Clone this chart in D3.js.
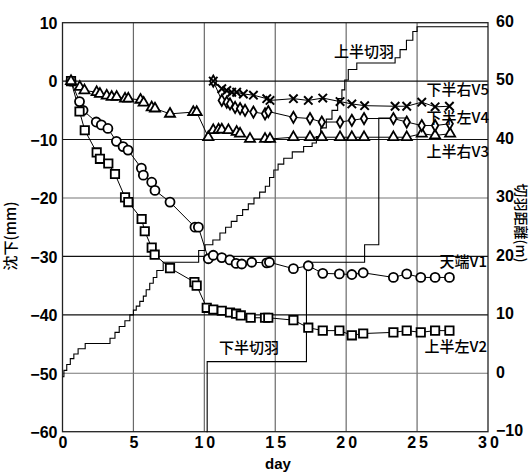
<!DOCTYPE html>
<html>
<head>
<meta charset="utf-8">
<script src="https://cdn.jsdelivr.net/npm/d3@7/dist/d3.min.js"></script>
<style>
  html, body { margin: 0; padding: 0; background: #fff; }
  svg { display: block; }
  .tick-label { font-family: "Liberation Sans", Arial, sans-serif; font-weight: bold; font-size: 16px; fill: #000; }
  .cjk { font-family: "Noto Sans CJK JP", "Noto Sans", sans-serif; font-weight: 500; font-size: 15px; fill: #000; }
</style>
</head>
<body>
<svg id="chart" width="532" height="474"></svg>
<script>
// Settlement (mm) per measuring point, [day, mm]
const crownV1 = [[0.6,0],[1.2,-3.5],[1.45,-5.0],[2.38,-7.0],[2.74,-7.5],[3.2,-8.1],[3.8,-10.3],[4.27,-11.2],[4.62,-11.8],[5.56,-14.9],[5.7,-16.1],[6.29,-17.3],[6.52,-18.7],[7.58,-20.7],[9.34,-25.0],[9.58,-25.0],[10.28,-30.4],[10.63,-29.8],[11.23,-30.2],[11.8,-30.6],[12.24,-31.2],[12.64,-31.3],[13.34,-31.0],[14.4,-31.1],[14.59,-31.0],[16.28,-32.1],[17.33,-31.6],[18.35,-32.9],[19.52,-33.0],[20.4,-33.1],[21.2,-32.8],[23.33,-33.6],[24.27,-33.0],[25.26,-33.6],[26.27,-33.6],[27.28,-33.6]];
const upperLeftV2 = [[0.6,0],[1.2,-5.2],[1.57,-8.4],[2.41,-12.2],[2.64,-13.3],[3.23,-14.1],[3.7,-15.9],[4.41,-19.9],[4.64,-20.7],[5.58,-23.6],[5.8,-25.7],[6.29,-28.5],[6.5,-29.7],[7.58,-32.0],[9.3,-34.4],[9.46,-35.0],[10.17,-38.8],[10.63,-39.1],[11.23,-39.3],[11.81,-39.6],[12.24,-39.8],[12.57,-40.1],[13.27,-40.5],[14.28,-40.5],[14.51,-40.5],[16.28,-40.9],[17.33,-42.2],[18.35,-42.7],[19.52,-42.7],[20.4,-43.5],[21.2,-43.2],[23.33,-43.0],[24.27,-42.7],[25.26,-43.0],[26.27,-42.7],[27.28,-42.7]];
const upperRightV3 = [[0.6,0],[1.22,-1.0],[1.55,-1.6],[2.41,-1.9],[2.64,-2.2],[3.12,-2.5],[3.47,-2.7],[3.82,-2.7],[4.41,-3.0],[4.64,-3.0],[5.5,-3.2],[5.72,-3.7],[6.29,-4.5],[6.52,-4.7],[7.58,-5.6],[9.22,-5.3],[9.46,-5.3],[10.28,-9.6],[10.63,-8.4],[11.0,-8.3],[11.23,-8.3],[11.7,-8.4],[12.28,-8.7],[12.52,-9.0],[13.22,-9.9],[14.28,-9.9],[14.63,-9.9],[16.28,-9.6],[17.45,-9.6],[18.28,-9.6],[19.57,-9.6],[20.4,-9.6],[21.26,-9.6],[23.33,-9.6],[24.27,-9.6],[25.33,-9.0],[26.27,-9.3],[27.33,-9.0]];
const lowerLeftV4 = [[10.63,0],[11.23,-3.3],[11.58,-3.6],[11.81,-3.9],[12.17,-4.5],[12.52,-4.7],[12.87,-5.0],[13.46,-5.3],[14.28,-5.6],[14.51,-5.2],[16.28,-6.2],[17.45,-6.4],[18.28,-7.0],[19.57,-7.0],[20.4,-6.7],[21.26,-6.4],[23.33,-6.4],[24.27,-7.0],[25.33,-7.6],[26.27,-7.6],[27.3,-7.3]];
const lowerRightV5 = [[10.63,0],[11.23,-1.3],[11.58,-1.6],[11.93,-1.9],[12.28,-1.9],[12.75,-2.2],[13.46,-2.4],[14.4,-3.0],[14.63,-3.3],[16.28,-3.0],[17.33,-3.3],[18.35,-2.9],[19.57,-3.5],[20.4,-3.9],[21.3,-4.2],[23.45,-4.3],[24.27,-4.3],[25.33,-3.6],[26.27,-4.4],[27.28,-4.3]];

// Face distance (m) progress, [day, m], held until the next entry
const upperFace = [[0,-0.6],[0.1,0.5],[0.3,1.5],[0.55,2.5],[0.8,3.3],[1.1,4.2],[1.6,5.1],[3.35,6],[3.7,7],[4.0,8],[4.4,9],[4.75,10],[5.0,10.8],[5.2,11.5],[5.45,12.3],[5.7,13.2],[5.9,14.3],[6.15,15.4],[6.4,16.4],[6.65,17.6],[7.1,19],[9.6,21],[10.05,22],[10.6,22.8],[11.1,24],[11.5,25],[11.9,26],[12.3,27],[12.7,28],[13.1,29],[13.5,30],[13.9,31],[14.3,32],[14.6,33.5],[14.9,34.8],[15.2,35.8],[15.6,36.8],[16.2,37.9],[17.0,38.8],[17.6,39.4],[17.9,40.5],[18.2,42],[18.6,43.5],[19.0,45],[19.4,47],[19.7,48.5],[19.9,50.2],[20.15,52],[20.75,53.1],[23.45,54],[23.8,55.4],[24.25,57],[24.7,58.5],[25.0,59.3],[30,59.3]];
const lowerFace = [[10.15,-10],[10.2,2],[17.2,19],[21.3,22],[22.3,43.7],[24.3,43.7]];

// Axis ticks
const xTicks = [0, 5, 10, 15, 20, 25, 30];
const yLeftTicks = [10, 0, -10, -20, -30, -40, -50, -60];
const yRightTicks = [60, 50, 40, 30, 20, 10, 0, -10];

// Series names drawn beside the curves
const seriesLabels = ["天端V1", "上半左V2", "上半右V3", "下半左V4", "下半右V5"];
const faceLabels = ["上半切羽", "下半切羽"];

const svg = d3.select("#chart");
const plotL = 62.5, plotR = 488, plotT = 22.7, plotB = 431.7;

const x = d3.scaleLinear().domain([0, 30]).range([plotL, plotR]);
const yL = d3.scaleLinear().domain([-60, 10]).range([plotB, plotT]);
const yR = d3.scaleLinear().domain([-10, 60]).range([plotB, plotT]);

// grid
const grid = svg.append("g");
xTicks.slice(1, -1).forEach(t => {
  grid.append("line").attr("x1", x(t)).attr("x2", x(t)).attr("y1", plotT).attr("y2", plotB)
    .attr("stroke", "#6a6a6a").attr("stroke-width", 1.2);
});
yLeftTicks.slice(1, -1).forEach(t => {
  const dark = [0, -10, -30, -40].includes(t);
  grid.append("line").attr("x1", plotL).attr("x2", plotR).attr("y1", yL(t)).attr("y2", yL(t))
    .attr("stroke", dark ? "#111" : "#777").attr("stroke-width", dark ? 1.1 : 1.2);
});
// frame
svg.append("rect").attr("x", plotL).attr("y", plotT).attr("width", plotR - plotL).attr("height", plotB - plotT)
  .attr("fill", "none").attr("stroke", "#222").attr("stroke-width", 1.3);

// axes labels
const axL = d3.axisLeft(yL).tickValues(yLeftTicks).tickSize(0).tickPadding(5).tickFormat(d3.format("d"));
const gL = svg.append("g").attr("transform", `translate(${plotL},0)`).call(axL);
const axR = d3.axisRight(yR).tickValues(yRightTicks).tickSize(0).tickPadding(8).tickFormat(d3.format("d"));
const gR = svg.append("g").attr("transform", `translate(${plotR},-2)`).call(axR);
const axB = d3.axisBottom(x).tickValues(xTicks).tickSize(0).tickPadding(5).tickFormat(d3.format("d"));
const gB = svg.append("g").attr("transform", `translate(0,${plotB})`).call(axB);
[gL, gR, gB].forEach(g => {
  g.select(".domain").remove();
  g.selectAll("text").attr("class", "tick-label").attr("font-size", null).attr("font-family", null);
});
gB.selectAll("text").style("letter-spacing", "3px").attr("dx", "1.5px");
gL.selectAll("text").attr("dy", "0.36em");
gR.selectAll("text").attr("dy", "0.36em");

svg.append("text").attr("class", "tick-label").attr("x", 278).attr("y", 469)
  .attr("text-anchor", "middle").style("font-size", "15px").text("day");
svg.append("text").attr("class", "cjk").attr("transform", "translate(16,236) rotate(-90)")
  .attr("text-anchor", "middle").text("沈下(mm)");
svg.append("text").attr("class", "cjk").style("font-size", "14px")
  .attr("transform", "translate(516,223) rotate(90)")
  .attr("text-anchor", "middle").text("切羽距離(m)");

// face progress step lines
const stepLine = d3.line().x(d => x(d[0])).y(d => yR(d[1])).curve(d3.curveStepAfter);
[upperFace, lowerFace].forEach(s => {
  svg.append("path").attr("d", stepLine(s)).attr("fill", "none").attr("stroke", "#000").attr("stroke-width", 1.1);
});

// settlement curves
const line = d3.line().x(d => x(d[0])).y(d => yL(d[1]));
const series = [
  { data: crownV1, marker: "circle" },
  { data: upperLeftV2, marker: "square" },
  { data: upperRightV3, marker: "triangle" },
  { data: lowerLeftV4, marker: "diamond" },
  { data: lowerRightV5, marker: "cross" }
];
series.forEach(s => {
  svg.append("path").attr("d", line(s.data)).attr("fill", "none").attr("stroke", "#000").attr("stroke-width", 1);
});
const symbols = {
  circle: d3.symbol().type(d3.symbolCircle).size(64),
  square: d3.symbol().type(d3.symbolSquare).size(70),
  triangle: d3.symbol().type(d3.symbolTriangle).size(44),
  diamond: d3.symbol().type(d3.symbolDiamond).size(36),
  cross: d3.symbol().type(d3.symbolX).size(48)
};
series.forEach(s => {
  svg.append("g").selectAll("path").data(s.data).join("path")
    .attr("transform", d => `translate(${x(d[0])},${yL(d[1])})`)
    .attr("d", symbols[s.marker]())
    .attr("fill", s.marker === "cross" ? "#000" : "#fff")
    .attr("stroke", "#000").attr("stroke-width", s.marker === "cross" ? 2 : 1.8);
});

// labels
const lab = (t, xp, yp, anchor) => svg.append("text").attr("class", "cjk").attr("x", xp).attr("y", yp)
  .attr("text-anchor", anchor || "end").attr("dy", "0.35em").text(t);
lab(faceLabels[0], 394, 52);
lab(faceLabels[1], 279, 348);
lab(seriesLabels[4], 489, 90);
lab(seriesLabels[3], 489, 118);
lab(seriesLabels[2], 489, 152);
lab(seriesLabels[0], 487, 262);
lab(seriesLabels[1], 487, 347);
</script>
</body>
</html>
